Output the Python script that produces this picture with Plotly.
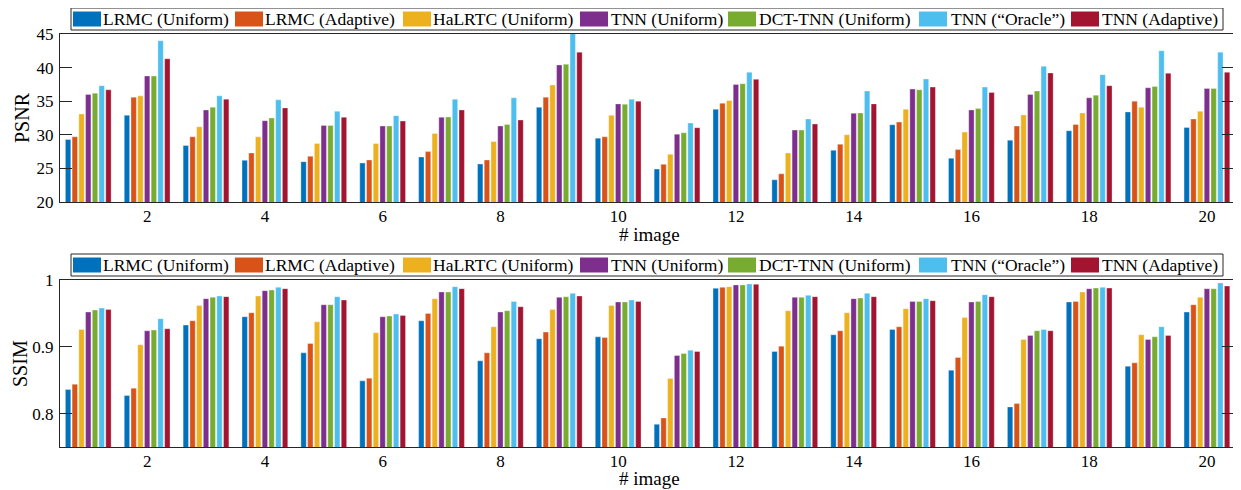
import plotly.graph_objects as go

images = list(range(1, 21))
methods = ["LRMC (Uniform)", "LRMC (Adaptive)", "HaLRTC (Uniform)", "TNN (Uniform)",
           "DCT-TNN (Uniform)", "TNN (\u201cOracle\u201d)", "TNN (Adaptive)"]
colors = ["#0072BD", "#D95319", "#EDB120", "#7E2F8E", "#77AC30", "#4DBEEE", "#A2142F"]

psnr_lrmc_u = [29.3, 32.9, 28.4, 26.2, 26.0, 25.8, 26.7, 25.65, 34.1, 29.5, 24.9, 33.8, 23.3, 27.7, 31.5, 26.5, 29.2, 30.6, 33.4, 31.1]
psnr_lrmc_a = [29.7, 35.6, 29.7, 27.3, 26.8, 26.25, 27.5, 26.25, 35.6, 29.7, 25.6, 34.7, 24.2, 28.6, 31.9, 27.8, 31.3, 31.55, 35.0, 32.35]
psnr_halrtc = [33.1, 35.8, 31.2, 29.7, 28.7, 28.7, 30.2, 29.0, 37.4, 32.9, 27.1, 35.1, 27.3, 30.0, 33.8, 30.4, 32.95, 33.25, 34.1, 33.5]
psnr_tnn_u = [36.0, 38.75, 33.7, 32.1, 31.4, 31.3, 32.6, 31.3, 40.4, 34.6, 30.1, 37.5, 30.7, 33.2, 36.8, 33.7, 36.0, 35.5, 37.0, 36.9]
psnr_dct_tnn = [36.2, 38.75, 34.1, 32.5, 31.4, 31.3, 32.65, 31.55, 40.5, 34.55, 30.3, 37.6, 30.7, 33.25, 36.7, 33.9, 36.5, 35.9, 37.2, 36.9]
psnr_tnn_oracle = [37.3, 44.0, 35.8, 35.2, 33.5, 32.85, 35.3, 35.5, 45.6, 35.3, 31.75, 39.3, 32.35, 36.5, 38.3, 37.1, 40.2, 38.95, 42.5, 42.3]
psnr_tnn_a = [36.7, 41.3, 35.3, 34.0, 32.6, 32.05, 33.7, 32.2, 42.3, 35.0, 31.05, 38.25, 31.6, 34.6, 37.1, 36.3, 39.2, 37.3, 39.15, 39.3]

ssim_lrmc_u = [0.836, 0.827, 0.9325, 0.945, 0.891, 0.849, 0.939, 0.879, 0.912, 0.915, 0.784, 0.9876, 0.893, 0.918, 0.926, 0.865, 0.810, 0.967, 0.871, 0.952]
ssim_lrmc_a = [0.844, 0.838, 0.939, 0.951, 0.905, 0.853, 0.950, 0.891, 0.922, 0.914, 0.7935, 0.989, 0.901, 0.924, 0.930, 0.884, 0.815, 0.968, 0.876, 0.963]
ssim_halrtc = [0.926, 0.903, 0.962, 0.976, 0.9375, 0.921, 0.972, 0.930, 0.956, 0.962, 0.8526, 0.990, 0.954, 0.951, 0.957, 0.944, 0.911, 0.982, 0.918, 0.974]
ssim_tnn_u = [0.952, 0.924, 0.972, 0.984, 0.963, 0.945, 0.982, 0.952, 0.974, 0.967, 0.887, 0.9926, 0.974, 0.972, 0.968, 0.967, 0.917, 0.987, 0.911, 0.987]
ssim_dct_tnn = [0.955, 0.925, 0.974, 0.985, 0.963, 0.946, 0.982, 0.954, 0.975, 0.967, 0.890, 0.9926, 0.974, 0.973, 0.968, 0.968, 0.924, 0.988, 0.915, 0.987]
ssim_tnn_oracle = [0.958, 0.942, 0.976, 0.989, 0.975, 0.949, 0.990, 0.968, 0.980, 0.970, 0.895, 0.994, 0.977, 0.980, 0.972, 0.978, 0.926, 0.989, 0.930, 0.9955]
ssim_tnn_a = [0.956, 0.927, 0.975, 0.987, 0.970, 0.947, 0.987, 0.960, 0.976, 0.968, 0.893, 0.9935, 0.975, 0.975, 0.969, 0.975, 0.924, 0.988, 0.917, 0.991]

psnr = [psnr_lrmc_u, psnr_lrmc_a, psnr_halrtc, psnr_tnn_u, psnr_dct_tnn, psnr_tnn_oracle, psnr_tnn_a]
ssim = [ssim_lrmc_u, ssim_lrmc_a, ssim_halrtc, ssim_tnn_u, ssim_dct_tnn, ssim_tnn_oracle, ssim_tnn_a]

psnr_ticks = [20, 25, 30, 35, 40, 45]
ssim_ticks = [0.8, 0.9, 1.0]
ssim_ticktext = ["0.8", "0.9", "1"]
x_ticks = [2, 4, 6, 8, 10, 12, 14, 16, 18, 20]

# page body has an 8px margin: figure is sized to fill the rest of the 1241x490 window
OFF = 8
W, H = 1241 - OFF, 490 - OFF
def px(x):
    return (x - OFF) / W
def py(y):
    return (H - (y - OFF)) / H

FONT = "Liberation Serif, Times New Roman, serif"
AX = "#262626"

fig = go.Figure()
for name, col, yv in zip(methods, colors, psnr):
    fig.add_trace(go.Bar(x=images, y=yv, name=name, marker_color=col,
                         marker_line=dict(color="rgba(255,255,255,0.55)", width=0.6),
                         xaxis="x", yaxis="y", showlegend=False))
for name, col, yv in zip(methods, colors, ssim):
    fig.add_trace(go.Bar(x=images, y=yv, name=name, marker_color=col,
                         marker_line=dict(color="rgba(255,255,255,0.55)", width=0.6),
                         xaxis="x2", yaxis="y2", showlegend=False))

xdom = [px(60), px(1234)]
top_dom = [py(202), py(34)]
bot_dom = [py(447), py(280)]
XR = [0.52, 20.46]

tickfont = dict(family=FONT, size=17, color="black")
main_x = dict(range=XR, tickvals=x_ticks, ticks="", showline=True, linecolor=AX, linewidth=1,
              mirror=True, showgrid=False, zeroline=False, domain=xdom, automargin=False,
              tickfont=tickfont, ticklabelstandoff=-1)
top_x = dict(range=XR, tickvals=x_ticks, ticks="inside", ticklen=12, tickcolor=AX, tickwidth=1,
             side="top", showline=False, showticklabels=False, showgrid=False, zeroline=False,
             domain=xdom, automargin=False)
common_y = dict(ticks="inside", ticklen=12, tickcolor=AX, showline=True, linecolor=AX,
                linewidth=1, mirror="ticks", showgrid=False, zeroline=False, automargin=False,
                tickfont=tickfont, ticklabelstandoff=2)

# legend boxes drawn as layout decorations (box, swatches, labels)
legend_box_x = (71, 1223)
legend_tops = (8, 254)
legend_h = 22
swatch_x0 = [73, 235, 403, 580, 728, 919, 1071]
swatch_w = 28
swatch_h = 15
text_x0 = [102, 264, 432, 610, 758, 950, 1101]

shapes = []
annotations = []
for top in legend_tops:
    shapes.append(dict(type="rect", xref="paper", yref="paper",
                       x0=px(legend_box_x[0]), x1=px(legend_box_x[1]),
                       y0=py(top + legend_h), y1=py(top),
                       fillcolor="white", line=dict(color="#262626", width=1)))
    cy = top + legend_h / 2
    for name, col, sx, tx in zip(methods, colors, swatch_x0, text_x0):
        shapes.append(dict(type="rect", xref="paper", yref="paper",
                           x0=px(sx), x1=px(sx + swatch_w),
                           y0=py(cy + swatch_h / 2), y1=py(cy - swatch_h / 2),
                           fillcolor=col, line=dict(width=0)))
        annotations.append(dict(text=name, x=px(tx - 1), y=py(cy), xref="paper", yref="paper",
                                xanchor="left", yanchor="middle", showarrow=False,
                                font=dict(family=FONT, size=17.5, color="black")))

title_font = dict(family=FONT, size=20, color="black")
xtitle_font = dict(family=FONT, size=19, color="black")
annotations += [
    dict(text="PSNR", x=px(22), y=py(118), xref="paper", yref="paper", textangle=-90,
         xanchor="center", yanchor="middle", showarrow=False, font=title_font),
    dict(text="SSIM", x=px(20), y=py(364), xref="paper", yref="paper", textangle=-90,
         xanchor="center", yanchor="middle", showarrow=False, font=title_font),
    dict(text="# image", x=px(649), y=py(234), xref="paper", yref="paper",
         xanchor="center", yanchor="middle", showarrow=False, font=xtitle_font),
    dict(text="# image", x=px(649), y=py(478.5), xref="paper", yref="paper",
         xanchor="center", yanchor="middle", showarrow=False, font=xtitle_font),
]

fig.update_layout(
    width=W, height=H, margin=dict(l=0, r=0, t=0, b=0, autoexpand=False),
    paper_bgcolor="white", plot_bgcolor="white",
    barmode="group", bargap=0.2, bargroupgap=0.2,
    font=dict(family=FONT, size=17, color="black"),
    xaxis=dict(anchor="y", **main_x),
    yaxis=dict(anchor="x", domain=top_dom, range=[20, 45], tickvals=psnr_ticks, **common_y),
    xaxis3=dict(anchor="y", overlaying="x", **top_x),
    xaxis2=dict(anchor="y2", **main_x),
    yaxis2=dict(anchor="x2", domain=bot_dom, range=[0.75, 1.0], tickvals=ssim_ticks,
                ticktext=ssim_ticktext, **common_y),
    xaxis4=dict(anchor="y2", overlaying="x2", **top_x),
    showlegend=False,
    shapes=shapes,
    annotations=annotations,
)

fig.write_html("out.html")
